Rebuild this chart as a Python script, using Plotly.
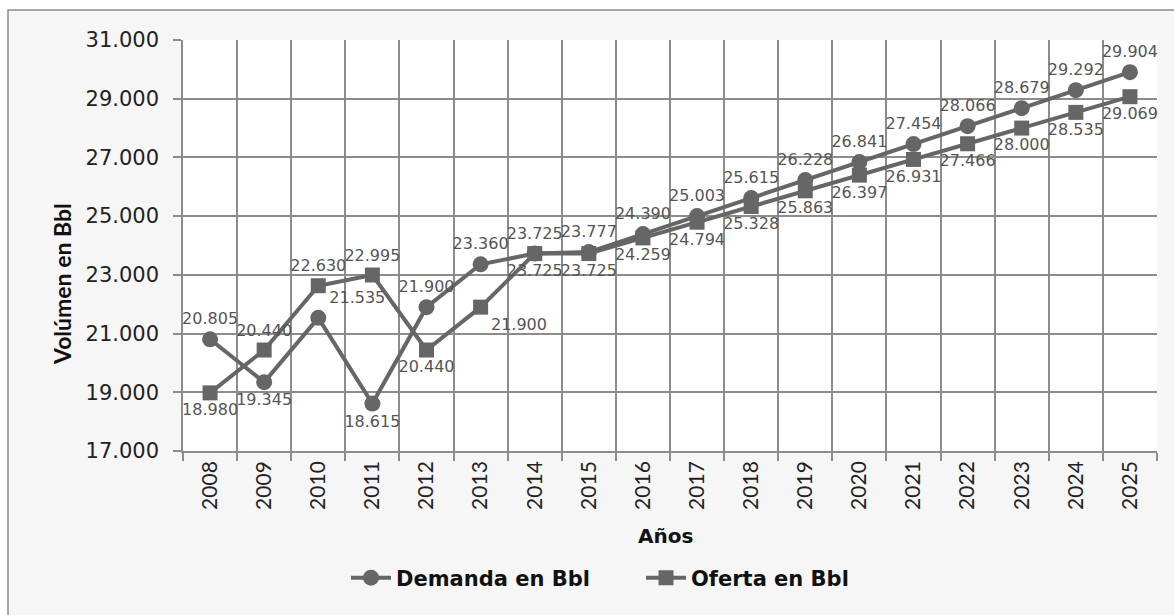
import plotly.graph_objects as go

years = [str(y) for y in range(2008, 2026)]
demanda = [20805, 19345, 21535, 18615, 21900, 23360, 23725, 23777, 24390, 25003,
           25615, 26228, 26841, 27454, 28066, 28679, 29292, 29904]
oferta = [18980, 20440, 22630, 22995, 20440, 21900, 23725, 23725, 24259, 24794,
          25328, 25863, 26397, 26931, 27466, 28000, 28535, 29069]
demanda_pos = ["top center", "bottom center", "top right", "bottom center"] + ["top center"] * 14
oferta_pos = ["bottom center", "top center", "top center", "top center", "bottom center",
              "bottom right"] + ["bottom center"] * 12

LINE = "#666666"
LBL = "#555555"
FONT = "DejaVu Sans"
VFONT = "Lato"

def fmt(v):
    return f"{v:,}".replace(",", ".")

fig = go.Figure()
fig.add_trace(go.Scatter(
    x=years, y=demanda, name="Demanda en Bbl", mode="lines+markers+text",
    line=dict(color=LINE, width=4), marker=dict(symbol="circle", size=16, color=LINE),
    text=[fmt(v) for v in demanda], textposition=demanda_pos,
    textfont=dict(family=FONT, size=16, color=LBL), cliponaxis=False))
fig.add_trace(go.Scatter(
    x=years, y=oferta, name="Oferta en Bbl", mode="lines+markers+text",
    line=dict(color=LINE, width=4), marker=dict(symbol="square", size=15, color=LINE),
    text=[fmt(v) for v in oferta], textposition=oferta_pos,
    textfont=dict(family=FONT, size=16, color=LBL), cliponaxis=False))

L, R, T, B = 183, 17, 40, 164
W, H = 1174, 615
pw, ph = W - L - R, H - T - B

def px(x):
    return (x - L) / pw

def py(y):
    return (H - B - y) / ph

fig.update_layout(
    width=W, height=H,
    margin=dict(l=L, r=R, t=T, b=B, autoexpand=False),
    paper_bgcolor="white", plot_bgcolor="white",
    separators=",.",
    font=dict(family=FONT, color="#333333"),
    showlegend=True,
    legend=dict(orientation="h", x=px(641), y=py(578), xanchor="center", yanchor="middle",
                font=dict(family=FONT, size=21, color="#111111", weight="bold"),
                bgcolor="rgba(0,0,0,0)", itemwidth=40, entrywidth=240),
    shapes=[
        dict(type="rect", xref="paper", yref="paper", x0=px(8), x1=px(1200), y0=py(10), y1=py(640),
             fillcolor="#f6f6f6", line=dict(color="#8a8a8a", width=1.5), layer="below"),
        dict(type="rect", xref="paper", yref="paper", x0=0, x1=1, y0=0, y1=1,
             fillcolor="white", line=dict(width=0), layer="below"),
    ],
    annotations=[
        dict(text="<b>Años</b>", xref="paper", yref="paper", x=px(665), y=py(536),
             showarrow=False, font=dict(family=FONT, size=20, color="#111111"),
             xanchor="center", yanchor="middle"),
        dict(text="<b>Volúmen en Bbl</b>", xref="paper", yref="paper", x=px(62), y=py(284),
             showarrow=False, textangle=-90, font=dict(family=VFONT, size=23, color="#111111"),
             xanchor="center", yanchor="middle"),
    ],
)
fig.update_xaxes(type="category", range=[-0.5, 17.5], tickson="boundaries",
                 showgrid=True, gridcolor="#8c8c8c", gridwidth=1.5,
                 showline=True, linecolor="#8c8c8c", linewidth=1.5,
                 ticks="outside", ticklen=8, tickcolor="#8c8c8c", tickwidth=1.5,
                 tickangle=-90, tickfont=dict(family=VFONT, size=21, color="#222222"))
fig.update_yaxes(range=[17000, 31000], dtick=2000, tick0=17000, tickformat=",.0f",
                 showgrid=True, gridcolor="#8c8c8c", gridwidth=1.5,
                 showline=True, linecolor="#8c8c8c", linewidth=1.5,
                 ticks="outside", ticklen=8, tickcolor="#8c8c8c", tickwidth=1.5,
                 ticklabelstandoff=10, zeroline=False,
                 tickfont=dict(family=FONT, size=21, color="#222222"))

fig.write_html("out.html", post_script="document.body.style.margin='0';",
               config={"displayModeBar": False})
